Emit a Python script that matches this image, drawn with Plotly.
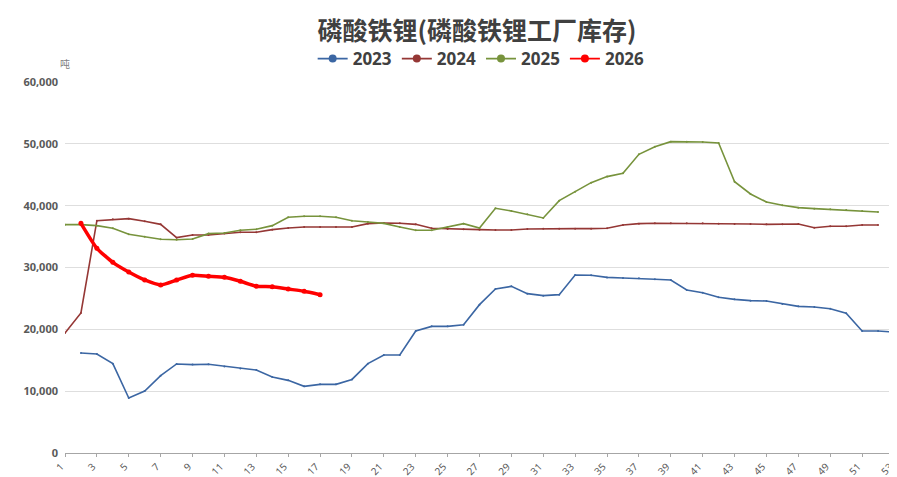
import plotly.graph_objects as go

weeks = list(range(1, 54))

s2023 = [None, 16170, 16000, 14450, 8900, 10030, 12500, 14400, 14300, 14350,
         14000, 13650, 13420, 12300, 11750, 10780, 11100, 11100, 11900, 14450,
         15850, 15850, 19730, 20480, 20480, 20750, 23990, 26520, 26950, 25770,
         25450, 25610, 28790, 28740, 28400, 28300, 28250, 28090, 27980, 26360,
         25930, 25180, 24850, 24640, 24580, 24100, 23720, 23610, 23340, 22590,
         19730, 19730, 19570]

s2024 = [19400, 22640, 37570, 37790, 37900, 37470, 36980, 34830, 35260, 35260,
         35480, 35690, 35690, 36120, 36390, 36550, 36550, 36550, 36550, 37090,
         37200, 37150, 36980, 36340, 36230, 36180, 36120, 36070, 36070, 36230,
         36280, 36280, 36280, 36280, 36340, 36880, 37090, 37150, 37150, 37150,
         37150, 37090, 37040, 37040, 36980, 36980, 37040, 36440, 36660, 36660,
         36880, 36880, None]

s2025 = [36930, 36930, 36770, 36340, 35370, 34990, 34560, 34500, 34610, 35480,
         35580, 36020, 36180, 36770, 38120, 38280, 38280, 38120, 37570, 37360,
         37140, 36550, 36020, 36020, 36550, 37090, 36390, 39570, 39140, 38600,
         38010, 40810, 42270, 43720, 44700, 45230, 48300, 49540, 50350, 50350,
         50300, 50140, 43880, 41890, 40590, 40060, 39680, 39520, 39410, 39300,
         39140, 38980, None]

s2026 = [None, 37140, 33100, 30840, 29270, 27980, 27170, 27980, 28740, 28580,
         28420, 27770, 26960, 26900, 26520, 26150, 25600]

names = ["2023", "2024", "2025", "2026"]
colors = ["#3B66A3", "#953735", "#77933C", "#FF0000"]
values = [s2023, s2024, s2025, s2026]

W, H = 889, 469  # page body has an 8px margin

fig = go.Figure()
for name, vals, color in zip(names, values, colors):
    is_new = name == "2026"
    fig.add_trace(go.Scatter(
        x=weeks[:len(vals)], y=vals, name=name, mode="lines+markers",
        line=dict(color=color, width=3.5 if is_new else 1.6,
                  shape="spline" if is_new else "linear",
                  smoothing=0.5 if is_new else None),
        marker=dict(color=color, size=5 if is_new else 2),
        showlegend=False, legendgroup=name,
    ))

# legend entries (thin line with dot, as in the reference legend)
for name, color in zip(names, colors):
    fig.add_trace(go.Scatter(
        x=[None], y=[None], name=f"<b>{name}</b>", mode="lines+markers",
        line=dict(color=color, width=1.8),
        marker=dict(color=color, size=8),
        legendgroup=name, showlegend=True,
    ))

fig.update_layout(
    width=W, height=H,
    margin=dict(l=57, r=3, t=74, b=24),
    paper_bgcolor="white", plot_bgcolor="white",
    font=dict(family="Noto Sans, Noto Sans CJK SC", color="#595959"),
    title=dict(text="<b>磷酸铁锂(磷酸铁锂工厂库存)</b>",
               font=dict(family="Noto Sans CJK SC", size=25, color="#404040"),
               x=469 / W, xanchor="center", y=1 - 23 / H, yref="container",
               yanchor="middle"),
    legend=dict(orientation="h", x=0.502, xanchor="center", y=1.062,
                yanchor="middle",
                font=dict(family="Noto Sans", size=17, color="#404040"),
                itemwidth=30, tracegroupgap=0),
    showlegend=True,
    xaxis=dict(range=[1, 53], tickmode="array", tickvals=list(range(1, 54, 2)),
               tickangle=-45, showgrid=False, zeroline=False,
               showline=True, linecolor="#a6a6a6", linewidth=1,
               ticks="outside", tickcolor="#a6a6a6", ticklen=3,
               ticklabelshift=-4, ticklabeloverflow="allow",
               tickfont=dict(size=10, color="#595959"), automargin=False),
    yaxis=dict(range=[0, 60000], dtick=10000, tickformat=",",
               showgrid=True, gridcolor="#dedede", gridwidth=1,
               zeroline=False, showline=False, ticklabelstandoff=6,
               tickfont=dict(size=11, color="#595959", weight="bold"),
               automargin=False),
    annotations=[dict(text="吨", xref="paper", yref="paper", x=0, y=1.05,
                      xanchor="center", yanchor="middle", showarrow=False,
                      font=dict(family="Noto Sans CJK SC", size=10, color="#7f7f7f"))],
)

fig.write_html("out.html")
